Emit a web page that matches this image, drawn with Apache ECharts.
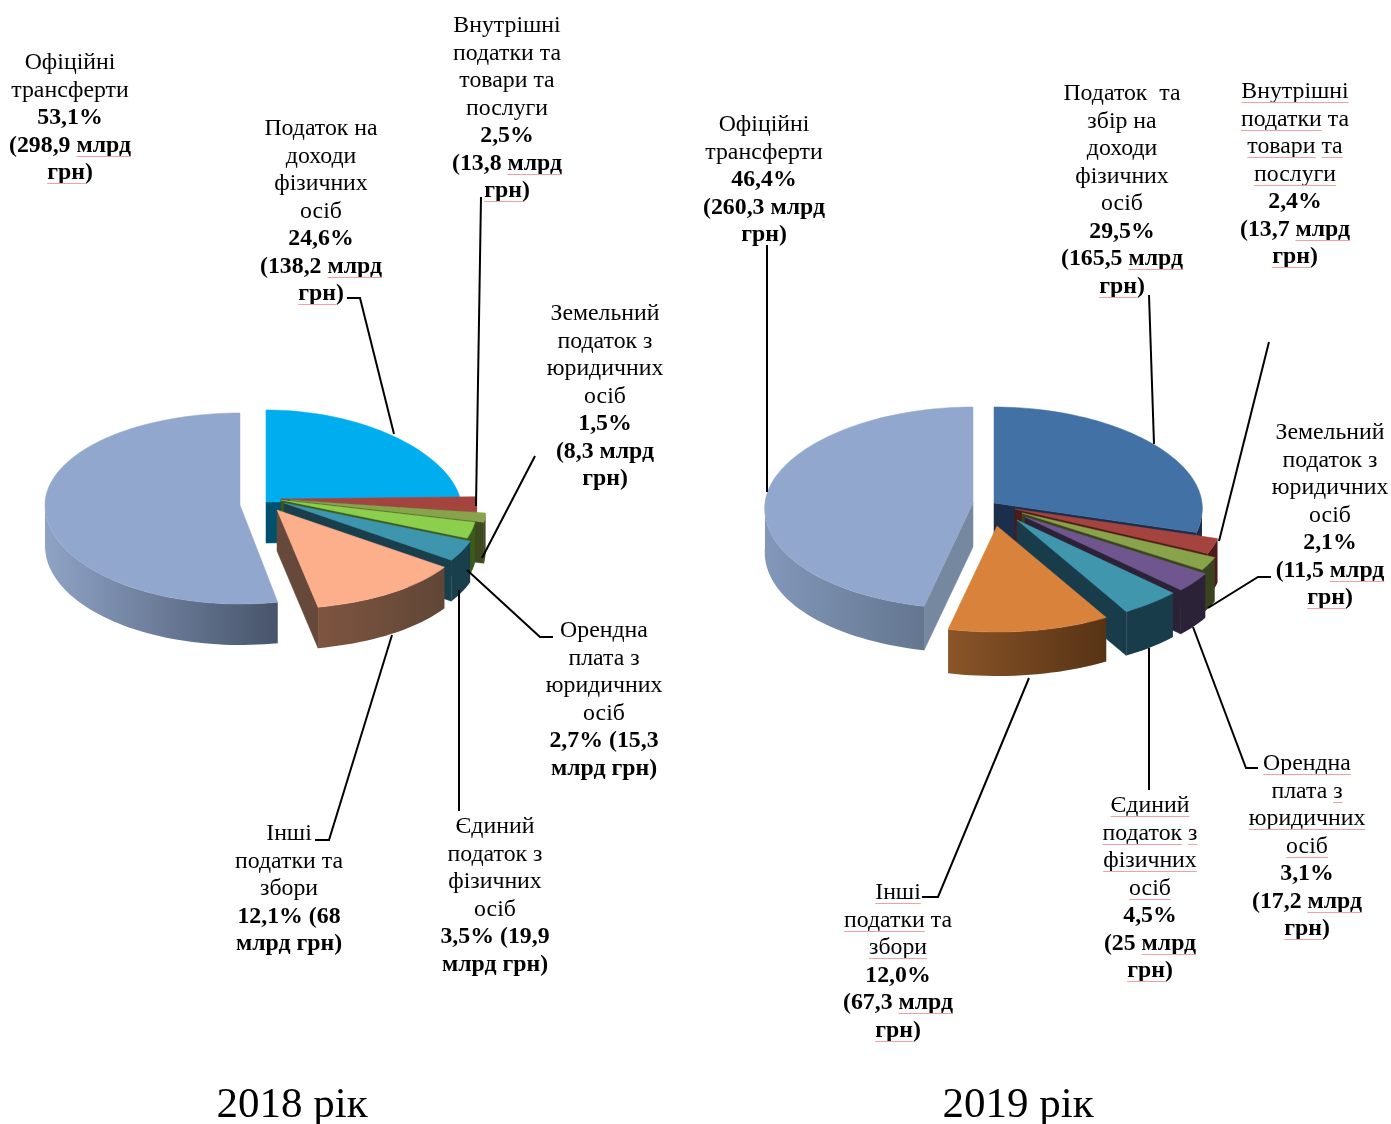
<!DOCTYPE html>
<html>
<head>
<meta charset="utf-8">
<style>
html,body{margin:0;padding:0;background:#fff;}
#chart{width:1391px;height:1124px;}
</style>
<script src="https://cdn.jsdelivr.net/npm/echarts@6/dist/echarts.min.js"></script>
</head>
<body>
<div id="chart"></div>
<script>
// slice order is clockwise from 12 o'clock, as in the original
const shares2018 = [24.6, 2.5, 1.5, 2.7, 3.5, 12.1, 53.1];
const shares2019 = [29.5, 2.4, 2.1, 3.1, 4.5, 12.0, 46.4];

// "*" = bold line, "~" marks a word with the red spell-check underline
const labels2018 = [
    ["Податок на", "доходи", "фізичних", "осіб", "*24,6%", "*(138,2 ~млрд", "*~грн)"],
    ["Внутрішні", "податки та", "товари та", "послуги", "*2,5%", "*(13,8 ~млрд", "*~грн)"],
    ["Земельний", "податок з", "юридичних", "осіб", "*1,5%", "*(8,3 млрд", "*грн)"],
    ["Орендна", "плата з", "юридичних", "осіб", "*2,7% (15,3", "*млрд грн)"],
    ["Єдиний", "податок з", "фізичних", "осіб", "*3,5% (19,9", "*млрд грн)"],
    ["Інші", "податки та", "збори", "*12,1% (68", "*млрд грн)"],
    ["Офіційні", "трансферти", "*53,1%", "*(298,9 ~млрд", "*~грн)"]
];
const labels2019 = [
    ["Податок  та", "збір на", "доходи", "фізичних", "осіб", "*29,5%", "*(165,5 ~млрд", "*~грн)"],
    ["~Внутрішні", "~податки та", "~товари ~та", "~послуги", "*2,4%", "*(13,7 ~млрд", "*~грн)"],
    ["Земельний", "податок з", "юридичних", "осіб", "*2,1%", "*(11,5 ~млрд", "*~грн)"],
    ["~Орендна", "плата ~з", "~юридичних", "~осіб", "*3,1%", "*(17,2 ~млрд", "*~грн)"],
    ["~Єдиний", "~податок ~з", "~фізичних", "~осіб", "*4,5%", "*(25 ~млрд", "*~грн)"],
    ["~Інші", "~податки та", "~збори", "*12,0%", "*(67,3 ~млрд", "*~грн)"],
    ["Офіційні", "трансферти", "*46,4%", "*(260,3 млрд", "*грн)"]
];
const years = ["2018 рік", "2019 рік"];

// layout only: centre x / first line y of each label
const labelPos2018 = [[321, 129], [507, 26], [605, 314], [604, 631], [495, 827], [289, 834], [70, 63]];
const labelPos2019 = [[1122, 94], [1295, 92], [1330, 433], [1307, 764], [1150, 806], [898, 893], [764, 125]];

// how far each slice is pulled from the pie centre, and its front widening
const explode2018 = [[11, -2], [26, -5], [35, -4], [26, -4], [29, -1], [22, 6], [-15, 1]];
const explode2019 = [[11, 0], [32, 6], [39, 10], [42, 14], [34, 17], [14, 23], [-10, 0]];
const persp2018 = [0.09, 0.09, 0.09, 0.09, 0.09, 0.09, 0];
const persp2019 = [0.05, 0.05, 0.05, 0.05, 0.05, 0.05, 0.05];

const top2018 = ["#00AEEF", "#A5443F", "#87A34C", "#8CCF4D", "#3E95AE", "#FDAF8B", "#92A7CE"];
const top2019 = ["#4271A5", "#A5443F", "#88A34A", "#6F568E", "#3F96AD", "#D9823B", "#92A7CE"];
const wall2018 = [["#00506E", "#00506E"], ["#4F1F1E", "#4F1F1E"], ["#3D4A20", "#3D4A20"], ["#3B5A1C", "#3B5A1C"],
    ["#1A3F4C", "#1A3F4C"], ["#7E5540", "#604636"], ["#8FA3C6", "#47546A"]];
const wall2019 = [["#1B2E4C", "#1B2E4C"], ["#4F1B1A", "#4F1B1A"], ["#39441E", "#39441E"], ["#2C2238", "#2C2238"],
    ["#183C49", "#183C49"], ["#8A5528", "#573315"], ["#8297BA", "#64768F"]];
const face2018 = ["#00506E", "#4F1F1E", "#3D4A20", "#3B5A1C", "#1A3F4C", "#66493A", "#76889F"];
const face2019 = ["#1B2E4C", "#4F1B1A", "#39441E", "#2C2238", "#183C49", "#573315", "#76889F"];

const leaders = [
    [[347, 298], [360, 298], [394, 434]],
    [[481, 197], [476, 506]],
    [[535, 456], [482, 558]],
    [[553, 637], [540, 637], [467, 570]],
    [[459, 590], [459, 811]],
    [[315, 840], [329, 840], [392, 635]],
    [[767, 245], [767, 492]],
    [[1149, 295], [1154, 444]],
    [[1269, 342], [1219, 541]],
    [[1271, 577], [1258, 577], [1208, 608]],
    [[1258, 768], [1246, 768], [1193, 627]],
    [[1149, 648], [1149, 790]],
    [[922, 897], [938, 897], [1029, 678]]
];

const FONT = '"Liberation Serif", "Times New Roman", serif';
const FONT_SIZE = 23.8;
const LINE_H = 27.55;
const RAD = Math.PI / 180;

function pieSeries(shares, opt){

    const total = shares.reduce((a, b) => a + b, 0);
    let acc = 0;

    const slices = shares.map((v, i) => {
        const start = acc / total * 360;
        acc += v;
        const end = acc / total * 360;
        return {value: v, start, end, i};
    });

    // back slices first, front slices over them
    slices.sort((a, b) =>
        -Math.cos((a.start + a.end) / 2 * RAD) + Math.cos((b.start + b.end) / 2 * RAD));

    function point(s, deg, drop){
        const X = Math.sin(deg * RAD);
        const Y = -Math.cos(deg * RAD);
        const p = 1 + opt.persp[s.i] * Y;
        const off = opt.explode[s.i];
        return [
            opt.cx + off[0] + opt.rx * X * p,
            opt.cy + off[1] + Y * (Y > 0 ? opt.ryFront : opt.ryBack) + drop
        ];
    }

    function arc(s, from, to, drop){
        const pts = [];
        const n = Math.max(2, Math.ceil((to - from) / 2));
        for(let k = 0; k <= n; k++){
            pts.push(point(s, from + (to - from) * k / n, drop));
        }
        return pts;
    }

    function renderItem(params){

        const s = slices[params.dataIndex];
        const off = opt.explode[s.i];
        const apex = [opt.cx + off[0], opt.cy + off[1]];
        const apexLow = [apex[0], apex[1] + opt.depth];
        const children = [];

        function poly(points, fill, strokeColor){
            children.push({
                type: "polygon",
                shape: {points},
                style: {fill, stroke: strokeColor || fill, lineWidth: 0.5}
            });
        }

        // cut faces that turn toward the viewer
        const faceColor = opt.face[s.i];
        if(Math.sin(s.end * RAD) > 0.001){
            poly([apex, point(s, s.end, 0), point(s, s.end, opt.depth), apexLow], faceColor);
        }
        if(Math.sin(s.start * RAD) < -0.001){
            poly([apex, point(s, s.start, 0), point(s, s.start, opt.depth), apexLow], faceColor);
        }

        // outer wall, front half only
        const wFrom = Math.max(s.start, 90);
        const wTo = Math.min(s.end, 270);
        if(wTo > wFrom){
            const upper = arc(s, wFrom, wTo, 0);
            const lower = arc(s, wFrom, wTo, opt.depth).reverse();
            const c = opt.wall[s.i];
            poly(upper.concat(lower),
                new echarts.graphic.LinearGradient(0, 0, 1, 0, [
                    {offset: 0, color: c[0]},
                    {offset: 1, color: c[1]}
                ]),
                "none");
        }

        poly([apex].concat(arc(s, s.start, s.end, 0)), opt.top[s.i]);

        return {type: "group", children};
    }

    return {
        type: "custom",
        coordinateSystem: "none",
        silent: true,
        animation: false,
        data: slices.map(s => s.value),
        renderItem
    };
}

function labelElements(labels, positions){

    const measure = document.createElement("canvas").getContext("2d");
    const out = [];

    labels.forEach((lines, i) => {
        lines.forEach((raw, j) => {

            const bold = raw[0] === "*";
            const marked = bold ? raw.slice(1) : raw;
            const text = marked.replace(/~/g, "");
            const cx = positions[i][0];
            const y = positions[i][1] + j * LINE_H;

            out.push({
                type: "text",
                x: cx,
                y: y,
                z: 10,
                style: {
                    text: text,
                    fontFamily: FONT,
                    fontSize: FONT_SIZE,
                    fontWeight: bold ? "bold" : "normal",
                    fill: "#000",
                    align: "center",
                    verticalAlign: "middle"
                }
            });

            measure.font = (bold ? "bold " : "") + FONT_SIZE + "px " + FONT;
            const left = cx - measure.measureText(text).width / 2;
            let idx = 0;

            marked.split("~").forEach((part, n) => {
                if(n > 0){
                    const word = part.split(/[\s)]/)[0];
                    const before = marked.slice(0, idx).replace(/~/g, "");
                    const x0 = left + measure.measureText(before).width;
                    const x1 = x0 + measure.measureText(word).width;
                    const uy = Math.round(y + 10) + 0.5;
                    out.push({
                        type: "line",
                        z: 11,
                        shape: {x1: x0, y1: uy, x2: x1, y2: uy},
                        style: {stroke: "#F2A0A0", lineWidth: 1}
                    });
                }
                idx += part.length + 1;
            });
        });
    });

    return out;
}

const chart = echarts.init(document.getElementById("chart"), null, {renderer: "canvas"});

const graphicElements = []
    .concat(leaders.map(points => ({
        type: "polyline",
        z: 8,
        shape: {points},
        style: {stroke: "#000", lineWidth: 2, fill: "none"}
    })))
    .concat(labelElements(labels2018, labelPos2018))
    .concat(labelElements(labels2019, labelPos2019))
    .concat(years.map((t, i) => ({
        type: "text",
        x: i === 0 ? 292 : 1018,
        y: 1106,
        z: 10,
        style: {
            text: t,
            fontFamily: FONT,
            fontSize: 43,
            fill: "#000",
            align: "center",
            verticalAlign: "middle"
        }
    })));

chart.setOption({
    animation: false,
    backgroundColor: "#fff",
    series: [
        pieSeries(shares2018, {
            cx: 255, cy: 504, rx: 195, ryBack: 92, ryFront: 99, depth: 41, persp: persp2018,
            explode: explode2018, top: top2018, wall: wall2018, face: face2018
        }),
        pieSeries(shares2019, {
            cx: 983, cy: 503, rx: 208, ryBack: 96, ryFront: 106, depth: 44, persp: persp2019,
            explode: explode2019, top: top2019, wall: wall2019, face: face2019
        })
    ],
    graphic: {elements: graphicElements}
});
</script>
</body>
</html>
